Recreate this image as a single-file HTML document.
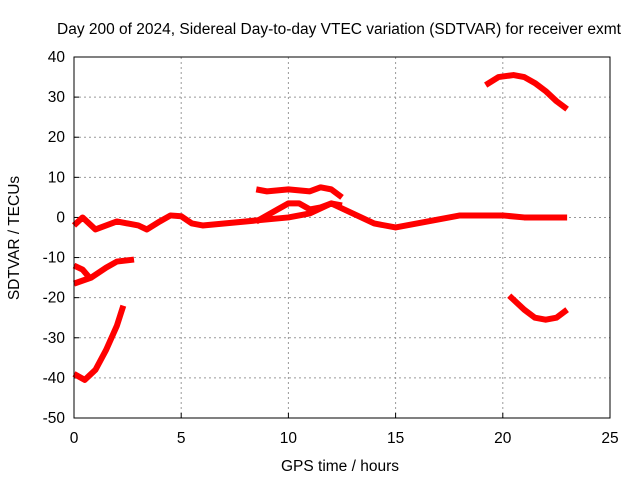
<!DOCTYPE html>
<html><head><meta charset="utf-8"><style>
body{margin:0;background:#fff}
text{font-family:"Liberation Sans",sans-serif;font-size:15.5px;fill:#000}
</style></head><body>
<svg id="c" width="640" height="480" xmlns="http://www.w3.org/2000/svg">
<text x="339" y="34" text-anchor="middle">Day 200 of 2024, Sidereal Day-to-day VTEC variation (SDTVAR) for receiver exmt</text>
<text x="340" y="471" text-anchor="middle">GPS time / hours</text>
<text x="19" y="238" text-anchor="middle" transform="rotate(-90 19 238)">SDTVAR / TECUs</text>
<g id="grid"></g><g id="series"></g>
<rect x="74" y="57" width="536" height="361" fill="none" stroke="#000"/>
</svg>
<script>
const xTicks=[0,5,10,15,20,25];
const yTicks=[-50,-40,-30,-20,-10,0,10,20,30,40];
const seriesMain=[[0,-2],[0.4,0],[0.6,-1],[1,-3],[1.5,-2],[2,-1],[3,-2],[3.4,-3],[4,-1],[4.5,0.5],[5,0.3],[5.5,-1.5],[6,-2],[7,-1.5],[8,-1],[9,-0.5],[10,0],[11,1],[12,3.5],[13,1],[14,-1.5],[15,-2.5],[16,-1.5],[17,-0.5],[18,0.5],[19,0.5],[20,0.5],[21,0],[22,0],[23,0]];
const seriesB=[[8.5,7],[9,6.5],[10,7],[11,6.5],[11.5,7.5],[12,7],[12.5,5]];
const seriesC=[[8.5,-1],[9.5,2],[10,3.5],[10.5,3.5],[11,2],[11.5,2.5],[12,3.5],[12.5,3]];
const seriesD=[[0,-12],[0.4,-13],[0.8,-15.5]];
const seriesE=[[0,-16.5],[0.8,-15],[1.5,-12.5],[2,-11],[2.8,-10.5]];
const seriesF=[[0,-39],[0.5,-40.5],[1,-38],[1.5,-33],[2,-27],[2.3,-22]];
const seriesG=[[19.2,33],[19.8,35],[20.5,35.5],[21,35],[21.5,33.5],[22,31.5],[22.5,29],[23,27]];
const seriesH=[[20.3,-19.5],[21,-23],[21.5,-25],[22,-25.5],[22.5,-25],[23,-23]];
const X=v=>74+v*536/25, Y=v=>418-(v+50)*361/90;
const NS="http://www.w3.org/2000/svg";
const g=document.getElementById('grid'), s=document.getElementById('series');
function mk(t,a,p){const e=document.createElementNS(NS,t);for(const k in a)e.setAttribute(k,a[k]);p.appendChild(e);return e;}
xTicks.forEach(t=>{
 if(t>0&&t<25){const l=mk('line',{x1:X(t),x2:X(t),y1:57,y2:418,stroke:'#999','stroke-dasharray':'2,3'},g);
 
 }
 const tx=mk('text',{x:X(t),y:443,'text-anchor':'middle'},g);tx.textContent=t;
 
 
 mk('line',{x1:X(t),x2:X(t),y1:418,y2:413,stroke:'#000'},g);
});
yTicks.forEach(t=>{
 if(t>-50&&t<40){const l=mk('line',{x1:74,x2:610,y1:Y(t),y2:Y(t),stroke:'#999','stroke-dasharray':'2,3'},g);
 
 }
 const tx=mk('text',{x:65,y:Y(t)+5,'text-anchor':'end'},g);tx.textContent=t;
 
 
 mk('line',{x1:74,x2:79,y1:Y(t),y2:Y(t),stroke:'#000'},g);
});
[seriesMain,seriesB,seriesC,seriesD,seriesE,seriesF,seriesG,seriesH].forEach((d,i)=>{
 const p=mk('polyline',{points:d.map(q=>X(q[0])+','+Y(q[1])).join(' '),fill:'none',stroke:'#f00','stroke-width':6,'stroke-linejoin':'round'},s);
 
 
});
</script>
</body></html>
